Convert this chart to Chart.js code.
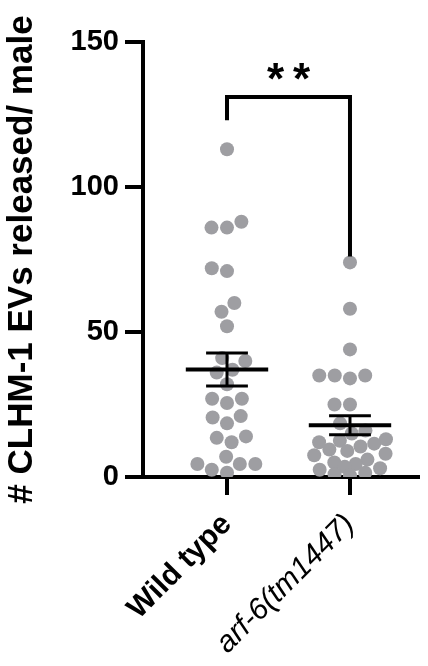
<!DOCTYPE html>
<html>
<head>
<meta charset="utf-8">
<script src="https://cdn.jsdelivr.net/npm/chart.js@4.4.1/dist/chart.umd.min.js"></script>
<style>
  html, body { margin: 0; padding: 0; background: #fff; }
  #wrap { width: 428px; height: 666px; }
</style>
</head>
<body>
<div id="wrap"><canvas id="chart" width="428" height="666"></canvas></div>
<script>
/* DATA */
const groups = ["Wild type", "arf-6(tm1447)"];
const wildType = [113, 86, 86, 88, 72, 71, 60, 57, 52, 41, 40, 37, 36, 32, 27, 27, 25.5,
  21, 18.5, 20.5, 14, 12, 13.5, 2.5, 4.5, 4.5, 4.5, 7, 1.5];
const arf6 = [74, 58, 44, 35, 35, 35, 34, 25, 25, 18.5, 16, 15, 13, 12.5, 12, 11.5, 10.5,
  9.5, 9, 8, 7.5, 6, 5, 4.5, 3.5, 3, 2.5, 1.5, 1, 0.5];
const yTicks = [0, 50, 100, 150];
const signif = "**";
// bracket: top, left leg end, right leg end (y values)
const bracket = [131, 123, 76];

const FONT = "'Liberation Sans', Arial, sans-serif";
const DOT = "#9e9ea2";

const mean = a => a.reduce((s, v) => s + v, 0) / a.length;
const sem = a => {
  const m = mean(a);
  const sd = Math.sqrt(a.reduce((s, v) => s + (v - m) ** 2, 0) / (a.length - 1));
  return sd / Math.sqrt(a.length);
};

// simple beeswarm: place points from low to high as close to centre as possible
function swarm(values, yScale, pxPerX, diam, maxPx) {
  const order = values.map((v, i) => i).sort((a, b) => values[a] - values[b]);
  const placed = [];
  const off = new Array(values.length).fill(0);
  order.forEach(i => {
    const py = yScale.getPixelForValue(values[i]);
    let d = diam, x = null;
    while (x === null) {
      const near = placed.filter(p => Math.abs(p.y - py) < d);
      const cands = [0];
      near.forEach(p => {
        const dx = Math.sqrt(d * d - (p.y - py) ** 2);
        cands.push(p.x - dx, p.x + dx);
      });
      cands.sort((a, b) => Math.abs(a) - Math.abs(b));
      for (const c of cands) {
        if (Math.abs(c) > maxPx + 0.01) continue;
        if (near.every(p => Math.hypot(p.x - c, p.y - py) >= d - 0.01)) { x = c; break; }
      }
      d *= 0.9;
    }
    placed.push({ x: x, y: py });
    off[i] = x / pxPerX;
  });
  return off;
}

const statsPlugin = {
  id: "stats",
  afterDatasetsDraw(chart) {
    const { ctx, scales: { x, y } } = chart;
    ctx.save();
    ctx.strokeStyle = "#000";
    ctx.fillStyle = "#000";
    const seg = (x1, y1, x2, y2) => {
      ctx.beginPath();
      ctx.moveTo(x1, y1);
      ctx.lineTo(x2, y2);
      ctx.stroke();
    };
    [wildType, arf6].forEach((vals, i) => {
      const c = i + 1, m = mean(vals), s = sem(vals);
      ctx.lineWidth = 4;
      seg(x.getPixelForValue(c - 0.335), y.getPixelForValue(m), x.getPixelForValue(c + 0.335), y.getPixelForValue(m));
      ctx.lineWidth = 3;
      seg(x.getPixelForValue(c), y.getPixelForValue(m + s), x.getPixelForValue(c), y.getPixelForValue(m - s));
      seg(x.getPixelForValue(c - 0.17), y.getPixelForValue(m + s), x.getPixelForValue(c + 0.17), y.getPixelForValue(m + s));
      seg(x.getPixelForValue(c - 0.17), y.getPixelForValue(m - s), x.getPixelForValue(c + 0.17), y.getPixelForValue(m - s));
    });
    // significance bracket
    ctx.lineWidth = 4;
    ctx.lineJoin = "miter";
    ctx.beginPath();
    ctx.moveTo(x.getPixelForValue(1), y.getPixelForValue(bracket[1]));
    ctx.lineTo(x.getPixelForValue(1), y.getPixelForValue(bracket[0]));
    ctx.lineTo(x.getPixelForValue(2), y.getPixelForValue(bracket[0]));
    ctx.lineTo(x.getPixelForValue(2), y.getPixelForValue(bracket[2]));
    ctx.stroke();
    // stars
    const fs = 44;
    ctx.font = "bold " + fs + "px " + FONT;
    ctx.textAlign = "center";
    ctx.textBaseline = "alphabetic";
    const cx = x.getPixelForValue(1.5), gap = 26;
    const base = y.getPixelForValue(141) + 0.58 * fs;
    [...signif].forEach((ch, k) => {
      ctx.fillText(ch, cx + (k - (signif.length - 1) / 2) * gap, base);
    });
    ctx.restore();
  }
};

const ctx = document.getElementById("chart").getContext("2d");
const chart = new Chart(ctx, {
  type: "scatter",
  data: {
    datasets: [wildType, arf6].map((vals, i) => ({
      data: vals.map(v => ({ x: i + 1, y: v })),
      backgroundColor: DOT,
      borderWidth: 0,
      pointRadius: 7,
      pointHoverRadius: 7
    }))
  },
  options: {
    responsive: false,
    animation: false,
    layout: { padding: { top: 42, right: 10, left: 0, bottom: 0 } },
    plugins: { legend: { display: false }, tooltip: { enabled: false } },
    scales: {
      x: {
        type: "linear",
        min: 0.317,
        max: 2.553,
        afterBuildTicks: s => { s.ticks = groups.map((g, i) => ({ value: i + 1 })); },
        afterFit: s => { s.height = 189; },
        ticks: {
          callback: v => groups[v - 1],
          autoSkip: false,
          minRotation: 45,
          maxRotation: 45,
          color: "#000",
          padding: 12,
          font: c => c.index === 0
            ? { family: FONT, size: 30, weight: "bold" }
            : { family: FONT, size: 30, style: "italic", weight: "normal" }
        },
        grid: { display: true, drawOnChartArea: false, tickLength: 18, lineWidth: 4, color: "#000" },
        border: { display: true, width: 4, color: "#000" }
      },
      y: {
        min: 0,
        max: 150,
        afterBuildTicks: s => { s.ticks = yTicks.map(v => ({ value: v })); },
        afterFit: s => { s.width = 143; },
        ticks: {
          color: "#000",
          padding: 6,
          font: { family: FONT, size: 29, weight: "bold" }
        },
        title: {
          display: true,
          text: "# CLHM-1 EVs released/ male",
          color: "#000",
          font: { family: FONT, size: 35, weight: "bold" },
          padding: { top: 1, bottom: 0 }
        },
        grid: { display: true, drawOnChartArea: false, tickLength: 18, lineWidth: 4, color: "#000" },
        border: { display: true, width: 4, color: "#000" }
      }
    }
  },
  plugins: [statsPlugin]
});

// spread the dots sideways now that the scales exist
const xs = chart.scales.x, ys = chart.scales.y;
const pxPerX = xs.getPixelForValue(2) - xs.getPixelForValue(1);
[wildType, arf6].forEach((vals, i) => {
  const off = swarm(vals, ys, pxPerX, 15.5, 37);
  chart.data.datasets[i].data = vals.map((v, k) => ({ x: i + 1 + off[k], y: v }));
});
chart.update("none");
</script>
</body>
</html>
